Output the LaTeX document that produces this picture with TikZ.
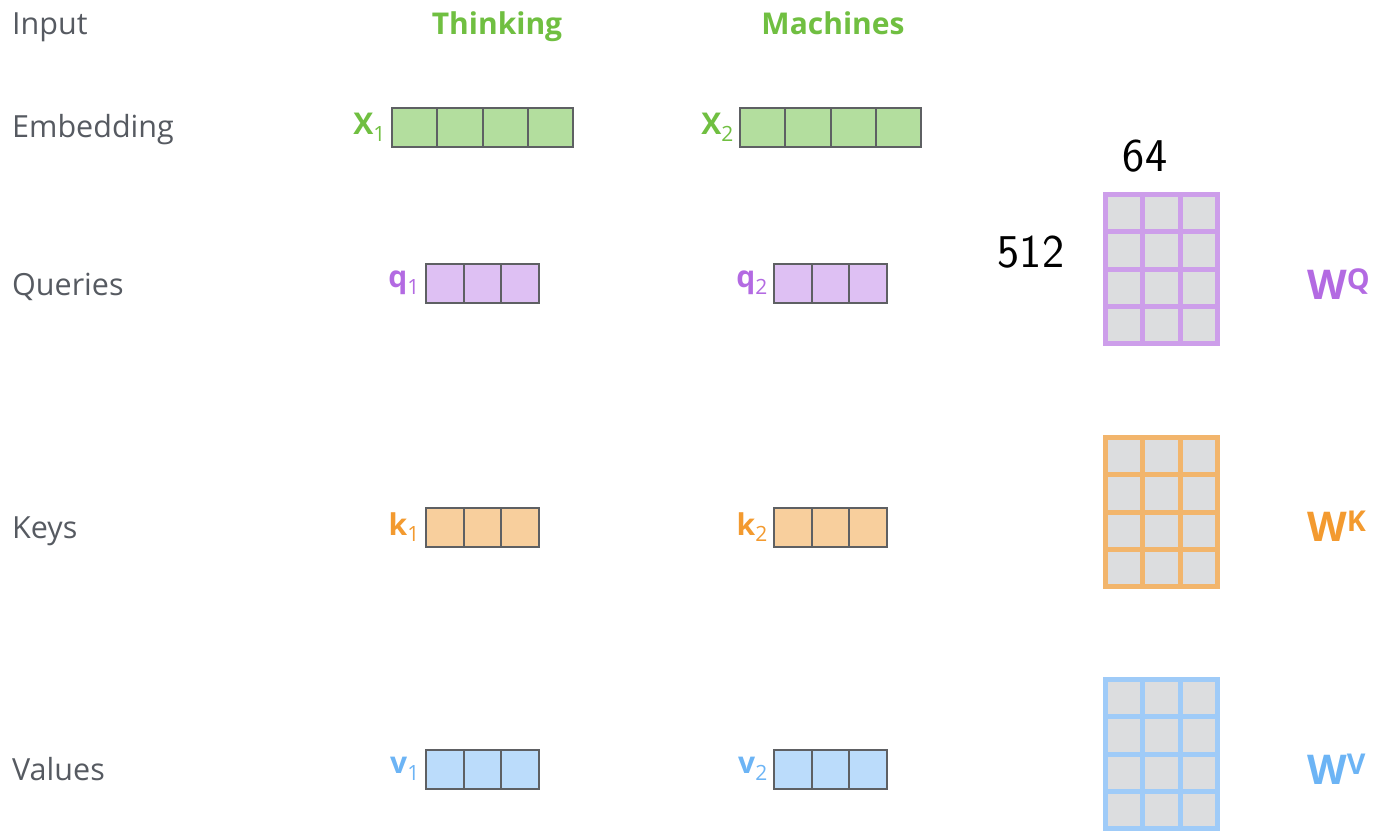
\documentclass[tikz,border=0pt]{standalone}
\usepackage{fontspec}
\setmainfont{Open Sans}
\usetikzlibrary{positioning}

\definecolor{labelgray}{HTML}{565A61}
\definecolor{xgreen}{HTML}{70BF41}
\definecolor{xfill}{HTML}{B3DE9E}
\definecolor{qpurple}{HTML}{B36AE2}
\definecolor{qfill}{HTML}{DEC0F3}
\definecolor{korange}{HTML}{F39A2F}
\definecolor{kfill}{HTML}{F8CF9D}
\definecolor{vblue}{HTML}{6CB4F5}
\definecolor{vfill}{HTML}{BBDCFB}
\definecolor{cellline}{HTML}{5E6063}
\definecolor{cellgray}{HTML}{DCDDDF}
\definecolor{wqline}{HTML}{CD9EEA}
\definecolor{wkline}{HTML}{F2B56C}
\definecolor{wvline}{HTML}{9FCBF8}

\begin{document}
\begin{tikzpicture}[x=1pt,y=-1pt,
  rowlabel/.style={anchor=base west, inner sep=0, text=labelgray, font=\fontsize{30.5}{34}\selectfont},
  wordlabel/.style={anchor=base, inner sep=0, text=xgreen, font=\fontsize{30}{34}\selectfont\bfseries},
  veclabel/.style={inner sep=0, font=\fontsize{30}{34}\selectfont\bfseries},
  embcell/.style={draw=cellline, line width=2pt, minimum width=45.25pt, minimum height=39pt, inner sep=0, fill=xfill},
  qkvcell/.style={embcell, minimum width=37.67pt},
  dimlabel/.style={anchor=base, inner sep=0, font=\sffamily\fontsize{47}{50}\selectfont},
  wlabel/.style={anchor=base west, inner sep=0, font=\fontsize{41}{45}\selectfont\bfseries}]
\useasboundingbox (0,0) rectangle (1379,837);

% row labels
\node[rowlabel] (inputlbl) at (12,35) {Input};
\node[rowlabel] (embedlbl) at (12,138) {Embedding};
\node[rowlabel] (querylbl) at (12,295) {Queries};
\node[rowlabel] (keylbl) at (12,538) {Keys};
\node[rowlabel] (valuelbl) at (12,780) {Values};

% input words
\node[wordlabel] (thinking) at (497,35) {Thinking};
\node[wordlabel] (machines) at (833,35) {Machines};

% embeddings
\foreach \i in {0,...,3} {
  \node[embcell] (x1-\i) at ({392+45.25*\i+22.625},127.5) {};
  \node[embcell] (x2-\i) at ({740+45.25*\i+22.625},127.5) {};
}
\node[veclabel, text=xgreen, left=5pt of x1-0] (x1lbl) {X\textsubscript{\mdseries 1}};
\node[veclabel, text=xgreen, left=5pt of x2-0] (x2lbl) {X\textsubscript{\mdseries 2}};

% queries, keys, values
\foreach \v/\y/\fc in {q/283/qfill, k/527/kfill, v/769/vfill}
  \foreach \i in {0,1,2} {
    \node[qkvcell, fill=\fc] (\v1-\i) at ({426+37.67*\i+18.83},\y) {};
    \node[qkvcell, fill=\fc] (\v2-\i) at ({774+37.67*\i+18.83},\y) {};
  }
\node[veclabel, text=qpurple, left=5pt of q1-0] (q1lbl) {q\textsubscript{\mdseries 1}};
\node[veclabel, text=qpurple, left=5pt of q2-0] (q2lbl) {q\textsubscript{\mdseries 2}};
\node[veclabel, text=korange, left=5pt of k1-0] (k1lbl) {k\textsubscript{\mdseries 1}};
\node[veclabel, text=korange, left=5pt of k2-0] (k2lbl) {k\textsubscript{\mdseries 2}};
\node[veclabel, text=vblue, left=5pt of v1-0] (v1lbl) {v\textsubscript{\mdseries 1}};
\node[veclabel, text=vblue, left=5pt of v2-0] (v2lbl) {v\textsubscript{\mdseries 2}};

% weight matrices
\foreach \top/\col in {194.5/wqline, 437.5/wkline, 679.5/wvline} {
  \draw[fill=cellgray, draw=\col, line width=5pt] (1105.5,\top) rectangle (1217.5,\top+149);
  \foreach \i in {1,2}
    \draw[\col, line width=5pt] (1105.5+37.33*\i,\top) -- (1105.5+37.33*\i,\top+149);
  \foreach \j in {1,2,3}
    \draw[\col, line width=5pt] (1105.5,\top+37.25*\j) -- (1217.5,\top+37.25*\j);
}
\node[dimlabel] (cols) at (1145,172) {64};
\node[dimlabel] (rows) at (1031,268) {512};

\node[wlabel, text=qpurple] (wq) at (1307,299) {W\textsuperscript{Q}};
\node[wlabel, text=korange] (wk) at (1307,541) {W\textsuperscript{K}};
\node[wlabel, text=vblue] (wv) at (1307,784) {W\textsuperscript{V}};
\end{tikzpicture}
\end{document}
